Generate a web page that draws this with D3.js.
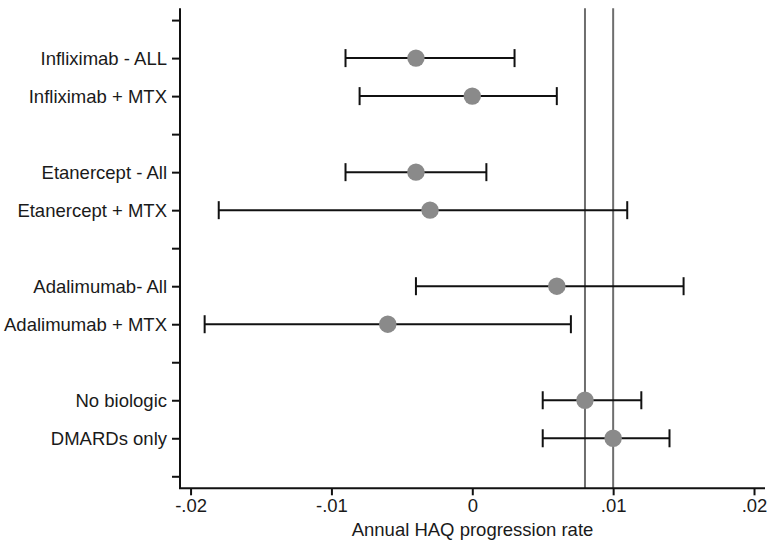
<!DOCTYPE html>
<html>
<head>
<meta charset="utf-8">
<script src="https://cdn.jsdelivr.net/npm/d3@7"></script>
<style>
  body { margin: 0; background: #fff; }
  text { font-family: "Liberation Sans", Arial, Helvetica, sans-serif; }
</style>
</head>
<body>
<svg id="chart" width="771" height="547"></svg>
<script>
// ---- data ----
const categories = ["Infliximab - ALL", "Infliximab + MTX", "Etanercept - All", "Etanercept + MTX",
                    "Adalimumab- All", "Adalimumab + MTX", "No biologic", "DMARDs only"];
const positions  = [2, 3, 5, 6, 8, 9, 11, 12];       // row on the y axis (1..13)
const estimates  = [-0.004, 0.000, -0.004, -0.003, 0.006, -0.006, 0.008, 0.010];
const lowerCI    = [-0.009, -0.008, -0.009, -0.018, -0.004, -0.019, 0.005, 0.005];
const upperCI    = [0.003, 0.006, 0.001, 0.011, 0.015, 0.007, 0.012, 0.014];
const yTickRows  = [1,2,3,4,5,6,7,8,9,10,11,12,13];
const xTicks     = [-0.02, -0.01, 0, 0.01, 0.02];
const xTickLabels = ["-.02", "-.01", "0", ".01", ".02"];
const refLines   = [0.008, 0.010];
const xTitle     = "Annual HAQ progression rate";

(function () {
const svg = d3.select("#chart");
const mLeft = 180, mRight = 765, mTop = 8.3, mBottom = 488.3;

const x = d3.scaleLinear().domain([-0.02075, 0.02078]).range([mLeft, mRight]);
const y = d3.scaleLinear().domain([0.69, 13.316]).range([mTop, mBottom]);

const FS = 18.5;

// reference lines
svg.append("g").selectAll("line").data(refLines).join("line")
  .attr("x1", d => x(d)).attr("x2", d => x(d))
  .attr("y1", mTop).attr("y2", mBottom)
  .attr("stroke", "#6e6e6e").attr("stroke-width", 2);

// error bars
const rows = categories.map((c, i) => ({c, p: positions[i], e: estimates[i], lo: lowerCI[i], hi: upperCI[i]}));
const eb = svg.append("g").attr("stroke", "#111").attr("stroke-width", 2).attr("fill", "none");
eb.selectAll(".bar").data(rows).join("line").attr("class", "bar")
  .attr("x1", d => x(d.lo)).attr("x2", d => x(d.hi))
  .attr("y1", d => y(d.p)).attr("y2", d => y(d.p));
eb.selectAll(".capl").data(rows).join("line").attr("class", "capl")
  .attr("x1", d => x(d.lo)).attr("x2", d => x(d.lo))
  .attr("y1", d => y(d.p) - 9).attr("y2", d => y(d.p) + 9);
eb.selectAll(".caph").data(rows).join("line").attr("class", "caph")
  .attr("x1", d => x(d.hi)).attr("x2", d => x(d.hi))
  .attr("y1", d => y(d.p) - 9).attr("y2", d => y(d.p) + 9);

// points
svg.append("g").selectAll("circle").data(rows).join("circle")
  .attr("cx", d => x(d.e)).attr("cy", d => y(d.p)).attr("r", 8.7)
  .attr("fill", "#8a8a8a");

// y axis
const labelByRow = new Map(positions.map((p, i) => [p, categories[i]]));
const yAxis = d3.axisLeft(y).tickValues(yTickRows).tickSize(8).tickPadding(5)
  .tickFormat(d => labelByRow.get(d) || "");
const gy = svg.append("g").attr("transform", `translate(${mLeft},0)`).call(yAxis);
gy.select(".domain").attr("d", `M0,${mTop}V${mBottom}`).attr("stroke", "#111").attr("stroke-width", 2);
gy.selectAll(".tick line").attr("stroke", "#111").attr("stroke-width", 2);
gy.selectAll(".tick text").attr("font-size", FS).attr("fill", "#1a1a1a")
  .style("font-family", '"Liberation Sans", Arial, sans-serif');

// x axis
const xAxis = d3.axisBottom(x).tickValues(xTicks).tickSize(7).tickPadding(4)
  .tickFormat((d, i) => xTickLabels[i]);
const gx = svg.append("g").attr("transform", `translate(0,${mBottom})`).call(xAxis);
gx.select(".domain").attr("d", `M${mLeft - 1},0H${mRight}`).attr("stroke", "#111").attr("stroke-width", 2);
gx.selectAll(".tick line").attr("stroke", "#111").attr("stroke-width", 2);
gx.selectAll(".tick text").attr("font-size", FS).attr("fill", "#1a1a1a")
  .style("font-family", '"Liberation Sans", Arial, sans-serif');

// x title
svg.append("text").attr("x", (mLeft + mRight) / 2).attr("y", 536)
  .attr("text-anchor", "middle").attr("font-size", FS).attr("fill", "#1a1a1a")
  .text(xTitle);
})();
</script>
</body>
</html>
